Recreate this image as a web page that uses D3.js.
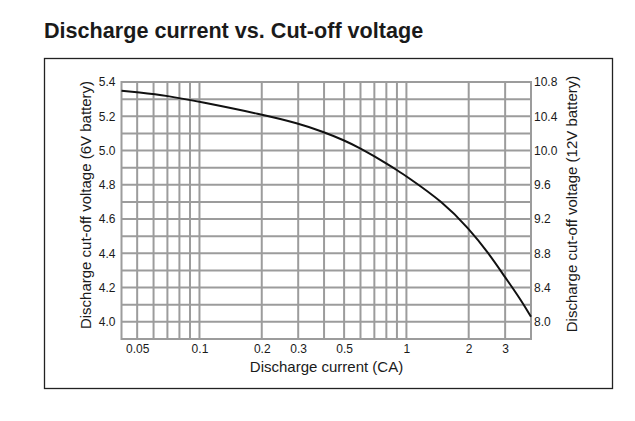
<!DOCTYPE html>
<html><head><meta charset="utf-8">
<script src="https://cdn.jsdelivr.net/npm/d3@7"></script>
<style>
body{margin:0;background:#fff;}
text{font-family:"Liberation Sans",Arial,sans-serif;fill:#1a1a1a;}
</style></head>
<body><svg id="c" width="635" height="421"></svg>
<script>
// Data
const current = [0.042, 0.05, 0.07, 0.1, 0.2, 0.3, 0.4, 0.5, 0.6, 0.7, 0.8, 0.9, 1, 1.5, 2, 2.5, 3, 3.5, 4];
const voltage6V = [5.349, 5.340, 5.320, 5.285, 5.211, 5.159, 5.108, 5.060, 5.013, 4.966, 4.924, 4.886, 4.850, 4.700, 4.546, 4.400, 4.260, 4.145, 4.030];
const xTickLabels = [0.05, 0.1, 0.2, 0.3, 0.5, 1, 2, 3];
const xGrid = [0.05, 0.06, 0.07, 0.08, 0.09, 0.1, 0.2, 0.3, 0.4, 0.5, 0.6, 0.7, 0.8, 0.9, 1, 2, 3];
const yLeftTicks = [4.0, 4.2, 4.4, 4.6, 4.8, 5.0, 5.2, 5.4];
const yGrid = [4.0, 4.1, 4.2, 4.3, 4.4, 4.5, 4.6, 4.7, 4.8, 4.9, 5.0, 5.1, 5.2, 5.3];
const yRightTicks = [8.0, 8.4, 8.8, 9.2, 9.6, 10.0, 10.4, 10.8];

const svg = d3.select("#c");
const L = 121.5, R = 531, T = 82, B = 339;
const x = d3.scaleLog().domain([0.042, 4]).range([L, R]);
const y = d3.scaleLinear().domain([3.9, 5.4]).range([B, T]);
const y2 = d3.scaleLinear().domain([7.8, 10.8]).range([B, T]);

// title
svg.append("text").attr("x", 44).attr("y", 38).attr("font-size", 21.6).attr("font-weight", "bold")
  .text("Discharge current vs. Cut-off voltage");

// frame
svg.append("rect").attr("x", 44.5).attr("y", 58.5).attr("width", 568).attr("height", 330)
  .attr("fill", "none").attr("stroke", "#222").attr("stroke-width", 1.3);

const gridColor = "#9c9c9c";
const g = svg.append("g");
g.selectAll("line.v").data(xGrid).join("line").attr("class","v")
  .attr("x1", d => x(d)).attr("x2", d => x(d)).attr("y1", T).attr("y2", B)
  .attr("stroke", gridColor).attr("stroke-width", 2);
g.selectAll("line.h").data(yGrid).join("line").attr("class","h")
  .attr("x1", L).attr("x2", R).attr("y1", d => y(d)).attr("y2", d => y(d))
  .attr("stroke", gridColor).attr("stroke-width", 2);
g.append("rect").attr("x", L).attr("y", T).attr("width", R - L).attr("height", B - T)
  .attr("fill", "none").attr("stroke", gridColor).attr("stroke-width", 2);

// axes
const fmt1 = d3.format(".1f");
const axL = d3.axisLeft(y).tickValues(yLeftTicks).tickFormat(fmt1).tickSize(0).tickPadding(6);
const axR = d3.axisRight(y2).tickValues(yRightTicks).tickFormat(fmt1).tickSize(0).tickPadding(3);
const axB = d3.axisBottom(x).tickValues(xTickLabels).tickFormat(d => String(d)).tickSize(0).tickPadding(5);
function style(sel){ sel.select(".domain").remove(); sel.selectAll("text").attr("font-size", 12).style("font-family", '"Liberation Sans",Arial,sans-serif').attr("fill", "#1a1a1a"); }
svg.append("g").attr("transform", `translate(${L},0)`).call(axL).call(style);
svg.append("g").attr("transform", `translate(${R},0)`).call(axR).call(style);
svg.append("g").attr("transform", `translate(0,${B})`).call(axB).call(style);

// axis titles
svg.append("text").attr("x", 326.5).attr("y", 372).attr("text-anchor", "middle").attr("font-size", 15)
  .text("Discharge current (CA)");
svg.append("text").attr("transform", "translate(90.5,205) rotate(-90)").attr("text-anchor", "middle").attr("font-size", 15)
  .text("Discharge cut-off voltage (6V battery)");
svg.append("text").attr("transform", "translate(577,204) rotate(-90)").attr("text-anchor", "middle").attr("font-size", 15)
  .text("Discharge cut-off voltage (12V battery)");

// curve
const line = d3.line().x((d, i) => x(current[i])).y(d => y(d)).curve(d3.curveBasis);
svg.append("path").datum(voltage6V).attr("d", line).attr("fill", "none").attr("stroke", "#111").attr("stroke-width", 2);
</script></body></html>
